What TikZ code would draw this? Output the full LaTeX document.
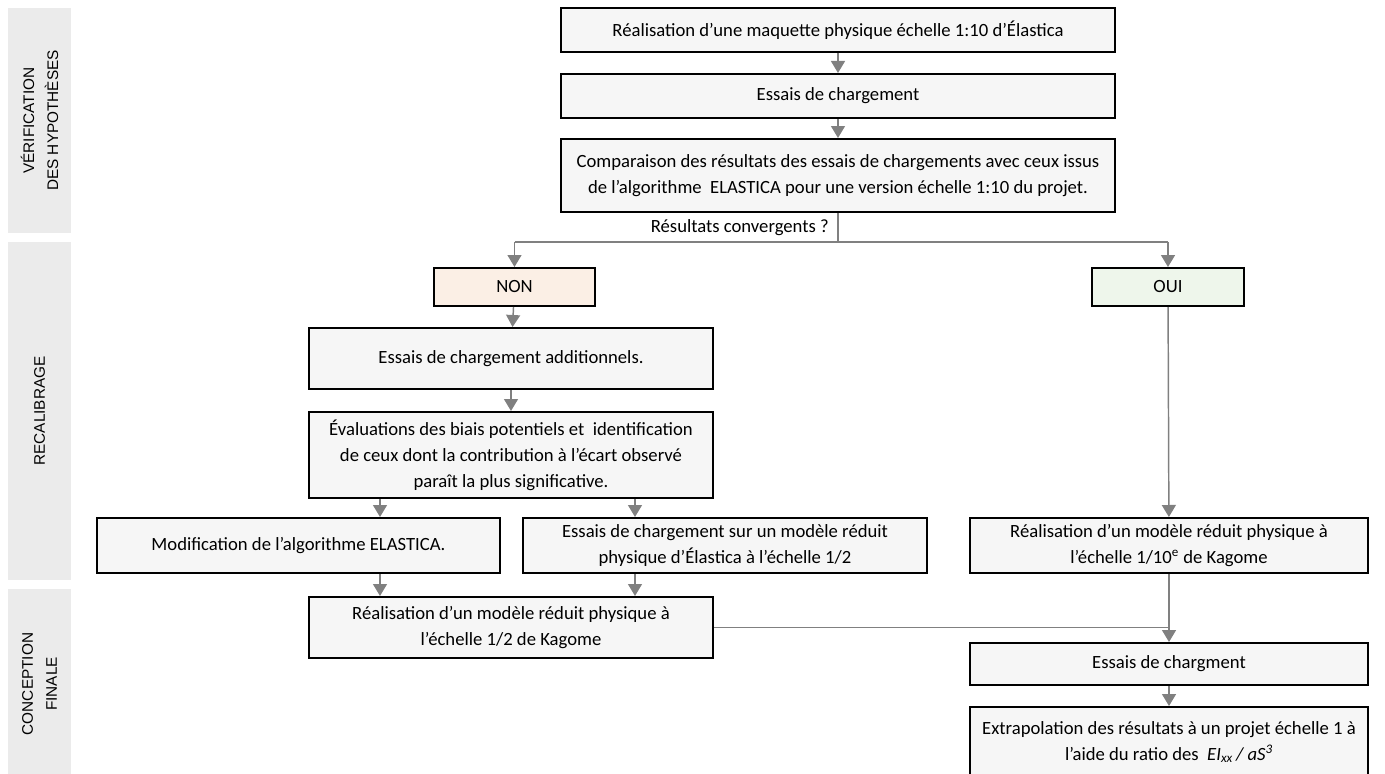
\documentclass[tikz,border=0pt]{standalone}
\usepackage{fontspec}
\setmainfont{Carlito}
\newfontfamily\bandfont{Liberation Sans}
\usetikzlibrary{arrows.meta,positioning}
\definecolor{mygray}{RGB}{128,128,128}
\definecolor{myband}{RGB}{235,235,235}
\definecolor{myfill}{RGB}{246,246,246}
\definecolor{mynon}{RGB}{251,239,229}
\definecolor{myoui}{RGB}{238,246,235}

\begin{document}
\begin{tikzpicture}[x=0.75pt, y=-0.75pt,
    sz/.style 2 args={minimum width=#1*0.75pt, minimum height=#2*0.75pt},
    box/.style={rectangle, draw=black, line width=1.5pt, fill=myfill, inner sep=0pt,
                align=center, font=\fontsize{14}{19.5}\selectfont},
    band/.style={rectangle, fill=myband, inner sep=0pt, rotate=90, align=center,
                font=\bandfont\fontsize{11.5}{18}\selectfont},
    arr/.style={-{Triangle[width=10.5pt,length=9pt]}, mygray, line width=1.1pt},
    lin/.style={mygray, line width=1.1pt}]
\useasboundingbox (0,0) rectangle (1385,774);
% bandes des phases
\node[band, sz={225}{63}] (p1) at (39.5,120.5) {VÉRIFICATION\\DES HYPOTHÈSES};
\node[band, sz={338}{63}] (p2) at (39.5,411) {RECALIBRAGE};
\node[band, sz={190}{63}] (p3) at (39.5,684) {CONCEPTION\\FINALE};
% verification
\node[box, sz={554}{44}] (a) at (838,30) {Réalisation d'une maquette physique échelle 1:10 d'Élastica};
\node[box, sz={554}{44}] (b) at (838,96) {Essais de chargement};
\node[box, sz={554}{73}] (c) at (838,175.5) {Comparaison des résultats des essais de chargements avec ceux issus\\de l'algorithme~ ELASTICA pour une version échelle 1:10 du projet.};
\node[font=\fontsize{14}{19.5}\selectfont, anchor=east, inner sep=0pt] (q) at (829,228) {Résultats convergents ?};
\coordinate (fork) at (838,242);
\node[box, sz={161}{38}, fill=mynon] (non) at (514.5,287) {NON};
\node[box, sz={152}{38}, fill=myoui] (oui) at (1168,287) {OUI};
% recalibrage
\node[box, sz={404}{61}] (d) at (511,358.5) {Essais de chargement additionnels.};
\node[box, sz={404}{86}] (e) at (511,455) {Évaluations des biais potentiels et~ identification\\de ceux dont la contribution à l'écart observé\\paraît la plus significative.};
\node[box, sz={403}{55}] (f) at (298.5,545.5) {Modification de l'algorithme ELASTICA.};
\node[box, sz={404}{55}] (g) at (725,545.5) {Essais de chargement sur un modèle réduit\\physique d'Élastica à l'échelle 1/2};
\node[box, sz={398}{55}] (h) at (1169,545.5) {Réalisation d'un modèle réduit physique à\\l'échelle 1/10\textsuperscript{e} de Kagome};
% conception finale
\node[box, sz={404}{61}] (i) at (511,627.5) {Réalisation d'un modèle réduit physique à\\l'échelle 1/2 de Kagome};
\node[box, sz={398}{42}] (j) at (1169,664) {Essais de chargment};
\node[box, sz={398}{70}] (k) at (1169,742) {Extrapolation des résultats à un projet échelle 1 à\\l'aide du ratio des~ \textit{EI}\textsubscript{\textit{xx}}\,\textit{/ aS}\textsuperscript{\textit{3}}};
\coordinate (s1) at (380,0);
\coordinate (s2) at (635,0);
\draw[arr] (a) -- (b); \draw[arr] (b) -- (c);
\draw[lin] (c.south) -- (fork);
\draw[lin] (fork -| non) -- (fork -| oui);
\draw[arr] (fork -| non) -- (non); \draw[arr] (fork -| oui) -- (oui);
\draw[arr] (non) -- (d); \draw[arr] (d) -- (e);
\draw[arr] (e.south -| s1) -- (f.north -| s1); \draw[arr] (e.south -| s2) -- (g.north -| s2);
\draw[arr] (f.south -| s1) -- (i.north -| s1); \draw[arr] (g.south -| s2) -- (i.north -| s2);
\draw[arr] (oui) -- (h);
\draw[lin] (i.east) -- (i.east -| j.north);
\draw[arr] (h) -- (j); \draw[arr] (j) -- (k);
\end{tikzpicture}
\end{document}
